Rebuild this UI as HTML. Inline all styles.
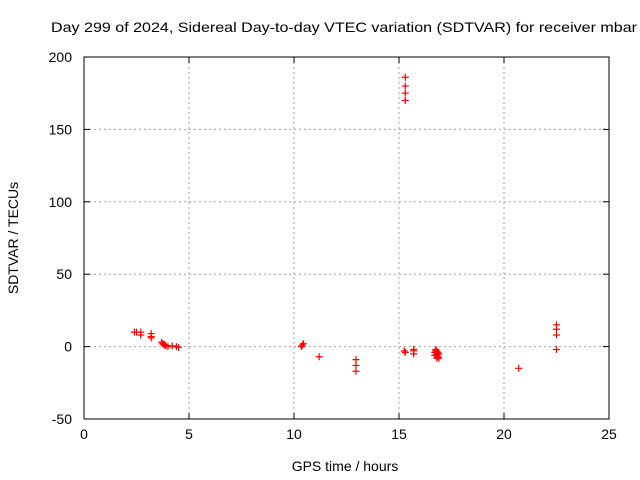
<!DOCTYPE html>
<html><head><meta charset="utf-8"><style>
html,body{margin:0;padding:0;background:#fff;}
svg{display:block;font-family:"Liberation Sans",sans-serif;}
</style></head><body>
<svg id="chart" width="640" height="480" viewBox="0 0 640 480">
<rect width="640" height="480" fill="#fff"/>
<text x="51" y="32" font-size="14" textLength="586" lengthAdjust="spacingAndGlyphs">Day 299 of 2024, Sidereal Day-to-day VTEC variation (SDTVAR) for receiver mbar</text>
<g id="grid"></g>
<g id="axes"></g>
<g id="points"></g>
<text x="345" y="471" font-size="14" text-anchor="middle">GPS time / hours</text>
<text transform="translate(18,238) rotate(-90)" font-size="14" text-anchor="middle">SDTVAR / TECUs</text>
</svg>
<script>
const xTicks=[0,5,10,15,20,25];
const yTicks=[-50,0,50,100,150,200];
const hours=[2.4,2.5,2.7,2.7,3.2,3.2,3.2,3.7,3.75,3.8,3.85,3.9,4.0,4.2,4.4,4.5,
10.35,10.4,10.45,11.2,12.95,12.95,12.95,15.3,15.3,15.3,15.3,15.25,15.3,15.7,15.7,15.7,
16.75,16.8,16.85,16.8,16.75,16.85,16.8,16.8,16.7,16.9,16.75,16.85,16.9,16.7,20.7,22.5,22.5,22.5,22.5];
const sdtvar=[10,10,8,10,9,6,7,3,2,1.5,1,0.5,0,0.5,0,-0.5,
0,1,2,-7,-9,-13,-17,186,180,175,170,-3,-4,-2,-3,-5,
-2,-3,-4,-5,-6,-7,-8,-6,-4,-5,-3,-7,-8,-6,-15,15,12,8,-2];
const X0=84,X1=609,Y0=419,Y1=57;
const xs=v=>X0+(v-0)/25*(X1-X0);
const ys=v=>Y0-(v+50)/250*(Y0-Y1);
const NS="http://www.w3.org/2000/svg";
function mk(tag,attrs,parent){const e=document.createElementNS(NS,tag);for(const k in attrs)e.setAttribute(k,attrs[k]);parent.appendChild(e);return e;}
const grid=document.getElementById('grid'),axes=document.getElementById('axes'),pts=document.getElementById('points');
xTicks.forEach(t=>{
  const x=xs(t);
  if(t>0&&t<25){const l=mk('line',{x1:x,x2:x,y1:Y1,y2:Y0,stroke:'#a0a0a0','stroke-dasharray':'2,3'},grid);
  
  }
  mk('line',{x1:x,x2:x,y1:Y0,y2:Y0-6,stroke:'#000'},axes);
  mk('line',{x1:x,x2:x,y1:Y1,y2:Y1+6,stroke:'#000'},axes);
  const tx=mk('text',{x:x,y:Y0+20,'font-size':14,'text-anchor':'middle'},axes);tx.textContent=t;
  
  
});
yTicks.forEach(t=>{
  const y=ys(t);
  if(t>-50&&t<200){const l=mk('line',{x1:X0,x2:X1,y1:y,y2:y,stroke:'#a0a0a0','stroke-dasharray':'2,3'},grid);
  
  }
  mk('line',{x1:X0,x2:X0+6,y1:y,y2:y,stroke:'#000'},axes);
  mk('line',{x1:X1,x2:X1-6,y1:y,y2:y,stroke:'#000'},axes);
  const tx=mk('text',{x:X0-12,y:y+5,'font-size':14,'text-anchor':'end'},axes);tx.textContent=t;
  
  
});
const frame=mk('rect',{x:X0,y:Y1,width:X1-X0,height:Y0-Y1,fill:'none',stroke:'#000'},axes);


hours.forEach((h,i)=>{
  const x=xs(h),y=ys(sdtvar[i]);
  const p=mk('path',{d:`M${x-3.5},${y}H${x+3.5}M${x},${y-3.5}V${y+3.5}`,stroke:'#f00','stroke-width':1.2},pts);
  
  
});
</script>
</body></html>
